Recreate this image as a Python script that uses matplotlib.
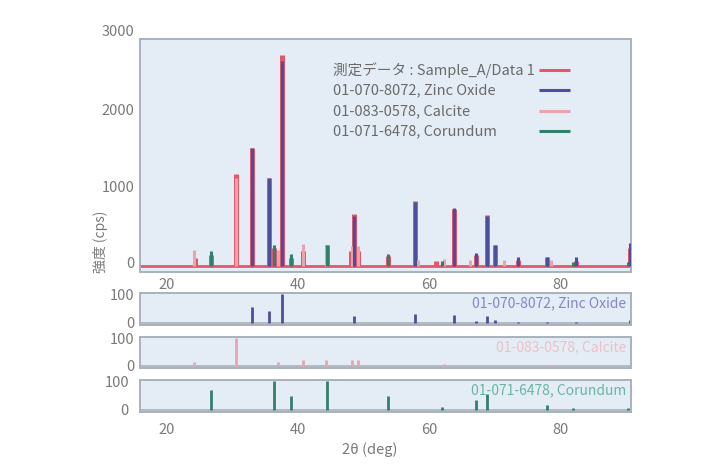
import matplotlib

matplotlib.use("Agg")
import matplotlib.pyplot as plt

plt.rcParams["font.family"] = ["Noto Sans CJK JP", "DejaVu Sans"]

# measured profile: peak positions (deg) and intensities (cps)
meas_2theta = [24.3, 26.8, 30.6, 33.0, 35.6, 36.3, 37.5, 38.9, 40.7, 44.5,
               48.1, 48.6, 49.2, 53.7, 57.8, 61.1, 63.8, 67.2, 68.9, 70.1,
               73.6, 78.0, 82.4, 90.6]
meas_cps = [60, 110, 1150, 1490, 1100, 200, 2700, 60, 150, 230,
            150, 640, 150, 90, 800, 20, 700, 110, 630, 240,
            40, 80, 30, 200]
meas_base = -45

# reference cards (relative intensity)
zno_2theta = [33.0, 35.6, 37.5, 48.6, 57.8, 63.8, 67.2, 68.9, 70.1, 73.6, 78.0, 82.4, 90.6]
zno_rel = [57, 42, 100, 23, 30, 27, 5, 23, 9, 3, 3, 3, 10]

calcite_2theta = [24.1, 30.5, 36.9, 40.7, 44.3, 48.2, 49.1, 58.3, 62.2, 66.3, 71.4, 78.6]
calcite_rel = [15, 100, 15, 22, 20, 20, 20, 3, 5, 3, 3, 3]

corundum_2theta = [26.8, 36.3, 38.9, 44.5, 53.7, 62.0, 67.2, 68.9, 78.0, 82.0, 90.3]
corundum_rel = [70, 100, 50, 100, 50, 10, 35, 55, 15, 7, 5]

labels = ["測定データ : Sample_A/Data 1", "01-070-8072, Zinc Oxide",
          "01-083-0578, Calcite", "01-071-6478, Corundum"]
x_ticks = [20, 40, 60, 80]

RED = "#e4566a"
BLUE = "#4b4f9c"
PINK = "#eba3ad"
GREEN = "#33806a"
BG = "#e4edf5"
SPINE = "#a9b1ba"
TXT = "#7a7a7a"

fig = plt.figure(figsize=(7.22, 4.76), dpi=100)
fig.patch.set_facecolor("white")

W, H = 722, 476


def add_axes(top, bottom):
    return fig.add_axes([140 / W, 1 - bottom / H, 491 / W, (bottom - top) / H])


ax = add_axes(39, 272)
panels = [add_axes(293, 325), add_axes(337, 368), add_axes(380, 412)]

for a in [ax] + panels:
    a.set_facecolor(BG)
    a.set_xlim(15.9, 90.8)
    a.set_xticks(x_ticks)
    for s in a.spines.values():
        s.set_color(SPINE)
        s.set_linewidth(1.4)
    a.tick_params(length=0, colors=TXT, labelsize=10.5, pad=4)

# main plot
ax.plot([15.9, 90.8], [meas_base, meas_base], color=RED, lw=2.0, zorder=2)
ax.vlines(meas_2theta, meas_base, meas_cps, color=RED, lw=3.6, zorder=2)
ax.vlines(calcite_2theta, meas_base, [v * 11 for v in calcite_rel], color=PINK, lw=2.2, zorder=3)
ax.vlines(corundum_2theta, meas_base, [v * 2.3 for v in corundum_rel], color=GREEN, lw=2.2, zorder=3)
ax.vlines(zno_2theta, meas_base, [v * 26.3 for v in zno_rel], color=BLUE, lw=2.2, zorder=4)
ax.set_ylim(-117, 2910)
ax.set_yticks([0, 1000, 2000])
ax.text(-0.012, 3000, "3000", transform=ax.get_yaxis_transform(), ha="right",
        va="center", color=TXT, fontsize=10.5)

# legend: text left, line sample on the right
leg_colors = [RED, BLUE, PINK, GREEN]
for i, (lab, col) in enumerate(zip(labels, leg_colors)):
    yy = 1 - (70 + 20.5 * i - 39) / 233
    ax.text((333 - 140) / 491, yy, lab, transform=ax.transAxes, ha="left",
            va="center", color="#6a6a6a", fontsize=10.5)
    ax.plot([(539 - 140) / 491, (570 - 140) / 491], [yy, yy], transform=ax.transAxes,
            color=col, lw=2.2, solid_capstyle="butt")

# reference card panels
card_data = [(zno_2theta, zno_rel, BLUE, "#8088c8", labels[1]),
             (calcite_2theta, calcite_rel, PINK, "#eec0c8", labels[2]),
             (corundum_2theta, corundum_rel, GREEN, "#6ab4a2", labels[3])]
for a, (xs, ys, col, tcol, lab) in zip(panels, card_data):
    a.vlines(xs, 0, ys, color=col, lw=2.0)
    a.axhline(0, color=SPINE, lw=1.2, zorder=1)
    a.set_ylim(-8, 105)
    a.set_yticks([0, 100])
    a.text(0.99, 0.68, lab, transform=a.transAxes, ha="right", va="center",
           color=tcol, fontsize=10)

for a in panels[:2]:
    a.tick_params(labelbottom=False)
panels[2].tick_params(pad=8)

fig.text(100 / W, 1 - 242 / H, "強度 (cps)", rotation=90, ha="center", va="center",
         color=TXT, fontsize=10)
fig.text(370 / W, 1 - 450 / H, "2θ (deg)", ha="center", va="center",
         color=TXT, fontsize=10.5)

fig.savefig("out.png", dpi=100, facecolor=fig.get_facecolor())
